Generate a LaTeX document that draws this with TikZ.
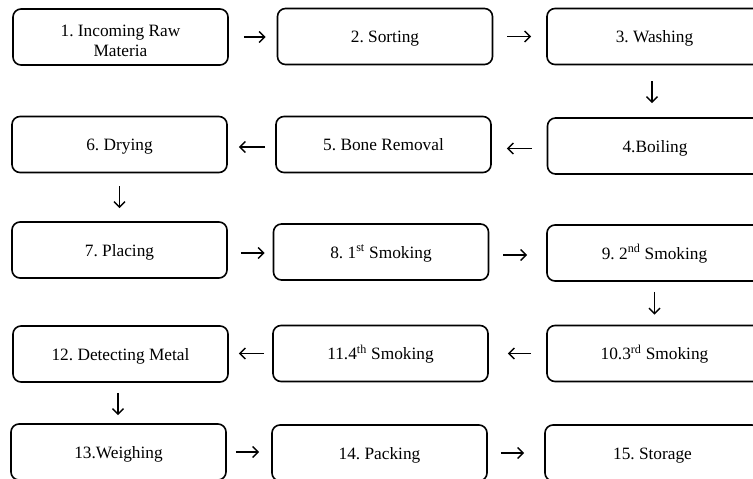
\documentclass[tikz,border=0pt]{standalone}
\usepackage{fontspec}
\setmainfont{Liberation Serif}
\usetikzlibrary{arrows.meta}
\frenchspacing
\begin{document}
\begin{tikzpicture}[x=1pt,y=-1pt,
  box/.style={draw, line width=1.6pt, rounded corners=8pt, minimum width=215pt, minimum height=56pt, inner sep=0pt, text height=14pt, text depth=2pt, font=\fontsize{17.3}{20}\selectfont\frenchspacing},
  arr/.style={-{Straight Barb[length=5.5pt,width=11pt,line width=1.4pt]}, line width=1.4pt},
  sh/.style 2 args={shorten <=#1pt, shorten >=#2pt}]
\useasboundingbox (0,0) rectangle (753,479);
\clip (0,0) rectangle (753,479);
\node[box, text height=29.8pt, text depth=10.2pt] (b1) at (120.5,37) {\begin{tabular}{@{}c@{}}1. Incoming Raw\\Materia\end{tabular}};
\node[box] (b2) at (385,36.5) {2. Sorting};
\node[box] (b3) at (654.5,36.5) {3. Washing};
\node[box] (b4) at (655,146) {4.Boiling};
\node[box] (b5) at (383.5,144.5) {5. Bone Removal};
\node[box] (b6) at (119.5,144.5) {6. Drying};
\node[box] (b7) at (119.5,250) {7. Placing};
\node[box] (b8) at (381,252) {8. 1\textsuperscript{st} Smoking};
\node[box] (b9) at (654.5,253) {9. 2\textsuperscript{nd} Smoking};
\node[box] (b10) at (654.5,353.5) {10.3\textsuperscript{rd} Smoking};
\node[box] (b11) at (380.5,353.5) {11.4\textsuperscript{th} Smoking};
\node[box] (b12) at (120.5,354) {12. Detecting Metal};
\node[box] (b13) at (118.5,452) {13.Weighing};
\node[box] (b14) at (379.5,453) {14. Packing};
\node[box] (b15) at (652.5,453) {15. Storage};
\draw[arr, sh={15}{11}] (b1.east) -- (b1.east -| b2.west);
\draw[arr, sh={14}{15}] (b2.east) -- (b2.east -| b3.west);
\draw[arr, sh={16}{14}] ([xshift=-2.5pt]b3.south) -- ([xshift=-2.5pt]b3.south |- b4.north);
\draw[arr, sh={15}{15}] ([yshift=-2.5pt]b4.west) -- ([yshift=-2.5pt]b4.west -| b5.east);
\draw[arr, sh={10}{11}] ([yshift=-2.5pt]b5.west) -- ([yshift=-2.5pt]b5.west -| b6.east);
\draw[arr, sh={13}{13}] (b6.south) -- (b6.south |- b7.north);
\draw[arr, sh={13}{8}] ([yshift=-3pt]b7.east) -- ([yshift=-3pt]b7.east -| b8.west);
\draw[arr, sh={14}{19}] ([yshift=-3pt]b8.east) -- ([yshift=-3pt]b8.east -| b9.west);
\draw[arr, sh={10}{10}] (b9.south) -- (b9.south |- b10.north);
\draw[arr, sh={15}{19}] (b10.west) -- (b10.west -| b11.east);
\draw[arr, sh={8}{10}] (b11.west) -- (b11.west -| b12.east);
\draw[arr, sh={10}{8}] ([xshift=-2.5pt]b12.south) -- ([xshift=-2.5pt]b12.south |- b13.north);
\draw[arr, sh={9}{12}] (b13.east) -- (b13.east -| b14.west);
\draw[arr, sh={13}{20}] (b14.east) -- (b14.east -| b15.west);
\end{tikzpicture}
\end{document}
